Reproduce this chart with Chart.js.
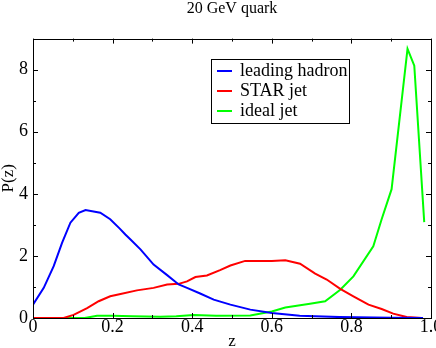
<!DOCTYPE html>
<html>
<head>
<meta charset="utf-8">
<script src="https://cdn.jsdelivr.net/npm/chart.js@4.4.0/dist/chart.umd.min.js"></script>
<style>
  html, body { margin: 0; padding: 0; background: #fff; }
  #wrap { width: 436px; height: 348px; }
</style>
</head>
<body>
<div id="wrap"><canvas id="zChart" width="436" height="348"></canvas></div>
<script>
// Data
var hadronZ = [0, 0.027, 0.052, 0.073, 0.094, 0.115, 0.132, 0.169, 0.194, 0.218, 0.232, 0.245, 0.27, 0.303, 0.337, 0.366, 0.387, 0.42, 0.454, 0.496, 0.546, 0.60, 0.67, 0.77, 0.9, 0.98];
var hadronP = [0.43, 0.97, 1.67, 2.42, 3.07, 3.39, 3.48, 3.39, 3.18, 2.88, 2.69, 2.53, 2.21, 1.72, 1.38, 1.08, 0.97, 0.79, 0.59, 0.43, 0.27, 0.16, 0.07, 0.03, 0.01, 0];

var starZ = [0, 0.077, 0.102, 0.136, 0.165, 0.194, 0.22, 0.261, 0.303, 0.337, 0.366, 0.387, 0.408, 0.437, 0.47, 0.496, 0.533, 0.60, 0.634, 0.671, 0.709, 0.738, 0.772, 0.805, 0.843, 0.876, 0.905, 0.939, 0.977];
var starP = [0, 0, 0.1, 0.32, 0.54, 0.70, 0.77, 0.89, 0.97, 1.08, 1.1, 1.18, 1.32, 1.37, 1.54, 1.69, 1.84, 1.84, 1.86, 1.75, 1.43, 1.24, 0.94, 0.70, 0.43, 0.29, 0.14, 0.03, 0];

var idealZ = [0, 0.13, 0.161, 0.2, 0.25, 0.32, 0.36, 0.404, 0.46, 0.546, 0.60, 0.634, 0.696, 0.734, 0.772, 0.805, 0.855, 0.876, 0.901, 0.941, 0.958, 0.983];
var idealP = [0, 0, 0.07, 0.07, 0.06, 0.04, 0.06, 0.1, 0.07, 0.08, 0.21, 0.34, 0.46, 0.54, 0.91, 1.34, 2.31, 3.18, 4.15, 8.67, 8.13, 3.09];

var seriesNames = ['leading hadron', 'STAR jet', 'ideal jet'];
var xTicks = [0, 0.2, 0.4, 0.6, 0.8, 1];
var xMinorTicks = [0.1, 0.3, 0.5, 0.7, 0.9];
var yTicks = [0, 2, 4, 6, 8];
var yMinorTicks = [1, 3, 5, 7, 9];

var serif = "'Liberation Serif', 'DejaVu Serif', serif";
Chart.defaults.font.family = serif;
Chart.defaults.color = '#000';

function toPoints(xs, ys) {
  return xs.map(function(x, i) { return { x: x, y: ys[i] }; });
}

// Frame, inward ticks on all four sides, and the boxed legend
var framePlugin = {
  id: 'frame',
  afterDraw: function(chart) {
    var ctx = chart.ctx;
    var a = chart.chartArea;
    var xs = chart.scales.x, ys = chart.scales.y;
    ctx.save();
    ctx.strokeStyle = '#000';
    ctx.lineWidth = 1;
    ctx.strokeRect(Math.round(a.left) + 0.5, Math.round(a.top) + 0.5,
      Math.round(a.right - a.left), Math.round(a.bottom - a.top));

    function xTick(v, len) {
      var px = Math.round(xs.getPixelForValue(v)) + 0.5;
      ctx.beginPath();
      ctx.moveTo(px, a.bottom); ctx.lineTo(px, a.bottom - len);
      ctx.moveTo(px, a.top); ctx.lineTo(px, a.top + len);
      ctx.stroke();
    }
    function yTick(v, len) {
      var py = Math.round(ys.getPixelForValue(v)) + 0.5;
      ctx.beginPath();
      ctx.moveTo(a.left, py); ctx.lineTo(a.left + len, py);
      ctx.moveTo(a.right, py); ctx.lineTo(a.right - len, py);
      ctx.stroke();
    }
    xTicks.forEach(function(v) { xTick(v, 5); });
    xMinorTicks.forEach(function(v) { xTick(v, 3); });
    yTicks.forEach(function(v) { yTick(v, 5); });
    yMinorTicks.forEach(function(v) { yTick(v, 3); });

    // legend box
    var lx = 211.5, ly = 59.5, lw = 138, lh = 64;
    ctx.fillStyle = '#fff';
    ctx.fillRect(lx, ly, lw, lh);
    ctx.strokeRect(lx, ly, lw, lh);
    ctx.font = '18px ' + serif;
    ctx.textBaseline = 'middle';
    ctx.textAlign = 'left';
    chart.data.datasets.forEach(function(ds, i) {
      var y = 71 + i * 20;
      ctx.strokeStyle = ds.borderColor;
      ctx.lineWidth = 2;
      ctx.beginPath();
      ctx.moveTo(217, y); ctx.lineTo(232, y);
      ctx.stroke();
      ctx.fillStyle = '#000';
      ctx.fillText(ds.label, 240, y);
    });
    ctx.restore();
  }
};

var ctx = document.getElementById('zChart').getContext('2d');
var chart = new Chart(ctx, {
  type: 'line',
  data: {
    datasets: [
      { label: seriesNames[0], data: toPoints(hadronZ, hadronP), borderColor: '#0000ff' },
      { label: seriesNames[1], data: toPoints(starZ, starP), borderColor: '#ff0000' },
      { label: seriesNames[2], data: toPoints(idealZ, idealP), borderColor: '#00ff00' }
    ]
  },
  options: {
    responsive: false,
    animation: false,
    parsing: false,
    elements: {
      line: { borderWidth: 2, tension: 0, fill: false },
      point: { radius: 0 }
    },
    layout: { padding: { left: 0, right: 5, top: 0, bottom: 0 } },
    plugins: {
      legend: { display: false },
      tooltip: { enabled: false },
      title: {
        display: true,
        fullSize: false,
        text: '20 GeV quark',
        color: '#000',
        font: { family: serif, size: 16, weight: 'normal', lineHeight: 1.1 },
        padding: { top: 0, bottom: 21 }
      }
    },
    scales: {
      x: {
        type: 'linear',
        min: 0,
        max: 1,
        afterBuildTicks: function(scale) {
          scale.ticks = xTicks.map(function(v) { return { value: v }; });
        },
        afterFit: function(scale) {
          scale.height = 30;
          scale.paddingLeft = 0;
          scale.paddingRight = 0;
        },
        grid: { display: false, drawTicks: false },
        border: { display: false },
        ticks: {
          color: '#000',
          padding: 0,
          maxRotation: 0,
          font: { family: serif, size: 18, lineHeight: 1 }
        },
        title: {
          display: true,
          text: 'z',
          color: '#000',
          padding: { top: 0, bottom: 0 },
          font: { family: serif, size: 17, lineHeight: 0.8 }
        }
      },
      y: {
        type: 'linear',
        min: 0,
        max: 9,
        afterBuildTicks: function(scale) {
          scale.ticks = yTicks.map(function(v) { return { value: v }; });
        },
        afterFit: function(scale) {
          scale.width = 33;
          scale.paddingTop = 0;
          scale.paddingBottom = 0;
        },
        grid: { display: false, drawTicks: false },
        border: { display: false },
        ticks: {
          color: '#000',
          padding: 5,
          font: { family: serif, size: 18, lineHeight: 1 }
        },
        title: {
          display: true,
          text: 'P(z)',
          color: '#000',
          padding: { top: 0, bottom: 0 },
          font: { family: serif, size: 17, lineHeight: 1 }
        }
      }
    }
  },
  plugins: [framePlugin]
});
</script>
</body>
</html>
